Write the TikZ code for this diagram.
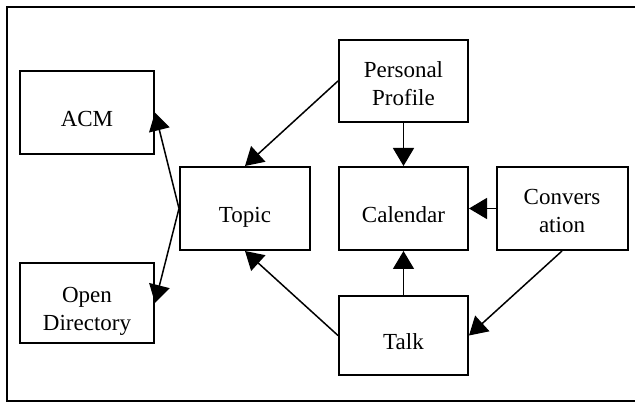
\documentclass[tikz,border=0pt]{standalone}
\usepackage{fontspec}
\setmainfont{Liberation Serif}
\usetikzlibrary{arrows.meta}

\tikzset{every picture/.style={line width=1.5pt}}
\tikzset{
  box/.style={draw, line width=2pt, rectangle, inner sep=0pt,
    font=\fontsize{23}{28}\selectfont, text height=28pt, text depth=0pt},
  link/.style={line width=1.5pt, -{Triangle[length=18pt,width=21pt]}}
}
\newcommand{\twolines}[2]{{\setlength{\tabcolsep}{0pt}\begin{tabular}[t]{c}#1\\#2\end{tabular}}}

\begin{document}
\begin{tikzpicture}[x=1pt,y=1pt,yscale=-1,xscale=1]
        \useasboundingbox (0,0) rectangle (635,403);
        %Frame (right side runs off the page)
        \draw [line width=2pt] (645,7) -- (7,7) -- (7,401) -- (645,401) ;

        % Boxes
        \node [box, minimum width=134, minimum height=83] (acm) at (87,112.5) {ACM};
        \node [box, minimum width=134, minimum height=80, text height=0pt] (opendir) at (87,303) {\twolines{Open}{Directory}};
        \node [box, minimum width=130, minimum height=83] (topic) at (245,208.5) {Topic};
        \node [box, minimum width=129, minimum height=82, text height=0pt, text depth=6pt] (profile) at (403.5,81) {\twolines{Personal}{Profile}};
        \node [box, minimum width=129, minimum height=83] (calendar) at (403.5,208.5) {Calendar};
        \node [box, minimum width=131, minimum height=83, text height=0pt, text depth=7pt] (conv) at (562,208.5) {\twolines{Convers}{ation}};
        \node [box, minimum width=129, minimum height=79] (talk) at (403.5,335.5) {Talk};

        % Links
        \draw [link] (topic.west) -- (acm.east) ;
        \draw [link] (topic.west) -- (opendir.east) ;
        \draw [link] (profile.west) -- (topic.north) ;
        \draw [link] (profile.south) -- (calendar.north) ;
        \draw [link] (conv.west) -- (calendar.east) ;
        \draw [link] (conv.south) -- (talk.east) ;
        \draw [link] (talk.west) -- (topic.south) ;
        \draw [link] (talk.north) -- (calendar.south) ;
    \end{tikzpicture}
\end{document}
